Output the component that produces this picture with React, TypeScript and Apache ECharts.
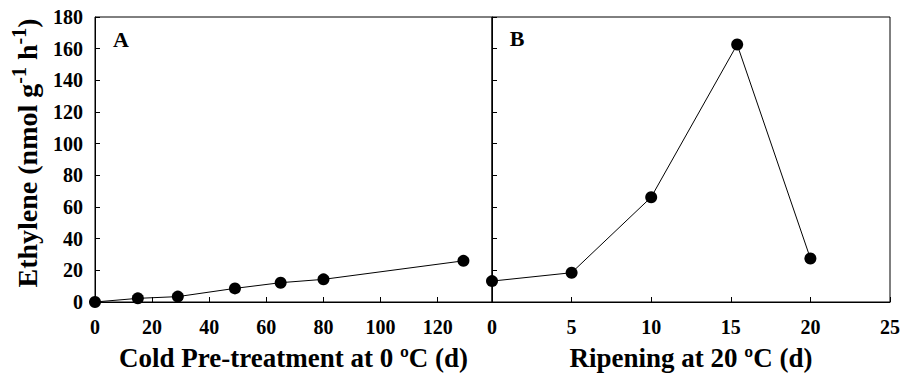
import React, { useEffect, useRef } from "react";
import * as echarts from "echarts";

const coldDays = [0, 15, 29, 49, 65, 80, 129];
const coldEthylene = [0, 2.3, 3.4, 8.6, 12.2, 14.3, 26.0];
const ripeDays = [0, 5, 10, 15.4, 20];
const ripeEthylene = [13.2, 18.5, 66.2, 162.6, 27.5];
const panelLabels = ["A", "B"];
const xTitles = ["Cold Pre-treatment at 0 ºC (d)", "Ripening at 20 ºC (d)"];
const yTitleParts = ["Ethylene (nmol g", "-1", " h", "-1", ")"];

export default function App() {
  const ref = useRef<HTMLDivElement>(null);
  useEffect(() => {
    document.body.style.margin = "0";
    const chart = echarts.init(ref.current!, null, { renderer: "svg" });
    const family = "'Liberation Serif', 'Times New Roman', serif";
    const tickLabel = {
      fontFamily: family,
      fontWeight: "bold" as const,
      fontSize: 20,
      color: "#000",
    };
    const nameStyle = {
      fontFamily: family,
      fontWeight: "bold" as const,
      fontSize: 27,
      color: "#000",
    };
    const axisLine = { show: true, lineStyle: { color: "#000", width: 1 } };
    const axisTick = { show: true, inside: true, length: 5, lineStyle: { color: "#000", width: 1 } };
    const xAxisBase = (grid: number, max: number, interval: number, name: string) => ({
      type: "value" as const,
      gridIndex: grid,
      min: 0,
      max,
      interval,
      axisLine,
      axisTick,
      splitLine: { show: false },
      axisLabel: {
        ...tickLabel,
        margin: 15,
        formatter: (v: number) => (v % interval === 0 ? String(v) : ""),
      },
      name,
      nameLocation: "middle" as const,
      nameGap: 42,
      nameTextStyle: nameStyle,
    });
    const yAxisBase = (grid: number, showLabel: boolean) => ({
      type: "value" as const,
      gridIndex: grid,
      min: 0,
      max: 180,
      interval: 20,
      axisLine,
      axisTick,
      splitLine: { show: false },
      axisLabel: { ...tickLabel, show: showLabel, margin: 12 },
    });
    const seriesStyle = {
      type: "line" as const,
      symbol: "circle",
      symbolSize: 12,
      clip: false,
      itemStyle: { color: "#000" },
      lineStyle: { color: "#000", width: 1 },
    };
    const yTitleRich = yTitleParts
      .map((p, i) => (i % 2 === 1 ? `{s|${p}}` : `{a|${p}}`))
      .join("");
    chart.setOption({
      animation: false,
      backgroundColor: "#fff",
      grid: [
        { left: 95, top: 17, width: 397, height: 287, show: true, borderColor: "#000", borderWidth: 1 },
        { left: 492, top: 17, width: 398, height: 287, show: true, borderColor: "#000", borderWidth: 1 },
      ],
      xAxis: [
        xAxisBase(0, 139, 20, xTitles[0]),
        xAxisBase(1, 25, 5, xTitles[1]),
      ],
      yAxis: [yAxisBase(0, true), yAxisBase(1, false)],
      series: [
        {
          ...seriesStyle,
          xAxisIndex: 0,
          yAxisIndex: 0,
          data: coldDays.map((d, i) => [d, coldEthylene[i]]),
        },
        {
          ...seriesStyle,
          xAxisIndex: 1,
          yAxisIndex: 1,
          data: ripeDays.map((d, i) => [d, ripeEthylene[i]]),
        },
      ],
      graphic: [
        {
          type: "text",
          x: 25,
          y: 153,
          rotation: Math.PI / 2,
          style: {
            text: yTitleRich,
            fill: "#000",
            textAlign: "center",
            textVerticalAlign: "middle",
            rich: {
              a: {
                fontFamily: family,
                fontWeight: "bold",
                fontSize: 28,
                fill: "#000",
                lineHeight: 32,
                verticalAlign: "bottom",
              },
              s: {
                fontFamily: family,
                fontWeight: "bold",
                fontSize: 20,
                fill: "#000",
                lineHeight: 32,
                verticalAlign: "top",
              },
            },
          },
        },
        {
          type: "text",
          x: 121,
          y: 39,
          style: {
            text: panelLabels[0],
            fontFamily: family,
            fontWeight: "bold",
            fontSize: 22,
            fill: "#000",
            textAlign: "center",
            textVerticalAlign: "middle",
          },
        },
        {
          type: "text",
          x: 517,
          y: 38,
          style: {
            text: panelLabels[1],
            fontFamily: family,
            fontWeight: "bold",
            fontSize: 22,
            fill: "#000",
            textAlign: "center",
            textVerticalAlign: "middle",
          },
        },
      ],
    });
    return () => chart.dispose();
  }, []);
  return <div ref={ref} style={{ width: 903, height: 376 }} />;
}
